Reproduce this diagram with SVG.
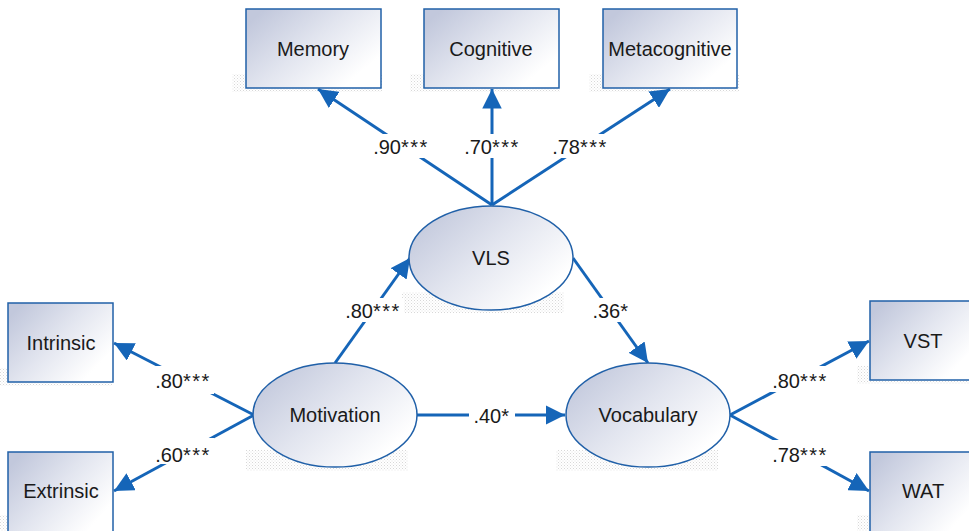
<svg xmlns="http://www.w3.org/2000/svg" width="969" height="531" viewBox="0 0 969 531">
<style>
.node{fill:url(#g);stroke:#2060a8;stroke-width:1.5}
.sh{fill:url(#dots)}
.t{font-family:"Liberation Sans",Arial,sans-serif;font-size:20px;fill:#1a1a1a;text-anchor:middle}
.lab{font-family:"Liberation Sans",Arial,sans-serif;font-size:20px;fill:#1a1a1a;text-anchor:middle}
.st{letter-spacing:1.5px}
.c{stroke:#1565b8;stroke-width:3;fill:none;marker-end:url(#ah)}
.bg{fill:#fff}
</style>
<defs>
<linearGradient id="g" x1="0" y1="0.2" x2="0.85" y2="0.8">
<stop offset="0" stop-color="#c2c8dc"/>
<stop offset="0.5" stop-color="#e2e5ef"/>
<stop offset="1" stop-color="#ffffff"/>
</linearGradient>
<pattern id="dots" width="3" height="3" patternUnits="userSpaceOnUse">
<rect width="3" height="3" fill="#fff"/>
<rect width="1" height="1" fill="#d8d8d8"/>
<rect x="1.5" y="1.5" width="1" height="1" fill="#e6e6e6"/>
</pattern>
<marker id="ah" viewBox="0 0 10 10" refX="10" refY="5" markerWidth="6.5" markerHeight="6.5" markerUnits="strokeWidth" orient="auto">
<path d="M0,0 L10,5 L0,10 Z" fill="#1565b8"/>
</marker>
</defs>
<g id="shadows">
<rect class="sh" x="232" y="74" width="150" height="18"/>
<rect class="sh" x="410" y="74" width="150" height="18"/>
<rect class="sh" x="589" y="74" width="150" height="18"/>
<rect class="sh" x="0" y="368" width="112" height="18"/>
<rect class="sh" x="0" y="515" width="112" height="16"/>
<rect class="sh" x="857" y="366" width="112" height="18"/>
<rect class="sh" x="857" y="515" width="112" height="16"/>
<rect class="sh" x="402" y="292" width="162" height="21"/>
<rect class="sh" x="246" y="450" width="162" height="21"/>
<rect class="sh" x="556" y="450" width="162" height="21"/>
</g>
<g id="connectors">
<line class="c" x1="492" y1="205" x2="318" y2="89"/>
<line class="c" x1="492" y1="205" x2="492" y2="89"/>
<line class="c" x1="492" y1="205" x2="670" y2="89"/>
<line class="c" x1="335" y1="363" x2="410" y2="258"/>
<line class="c" x1="573" y1="258" x2="648" y2="363"/>
<line class="c" x1="417" y1="415" x2="565" y2="415"/>
<line class="c" x1="254" y1="415" x2="114" y2="343"/>
<line class="c" x1="254" y1="415" x2="114" y2="491"/>
<line class="c" x1="730" y1="415" x2="869" y2="341"/>
<line class="c" x1="730" y1="415" x2="869" y2="491"/>
</g>
<g id="labels">
<rect class="bg" x="370" y="134" width="62" height="24"/>
<text class="lab" x="401" y="154">.90<tspan class="st">***</tspan></text>
<rect class="bg" x="461" y="134" width="62" height="24"/>
<text class="lab" x="492" y="154">.70<tspan class="st">***</tspan></text>
<rect class="bg" x="549" y="134" width="62" height="24"/>
<text class="lab" x="580" y="154">.78<tspan class="st">***</tspan></text>
<rect class="bg" x="342" y="298" width="62" height="24"/>
<text class="lab" x="373" y="318">.80<tspan class="st">***</tspan></text>
<rect class="bg" x="588" y="298" width="46" height="24"/>
<text class="lab" x="611" y="318">.36<tspan class="st">*</tspan></text>
<rect class="bg" x="469" y="404" width="46" height="22"/>
<text class="lab" x="492" y="423">.40<tspan class="st">*</tspan></text>
<rect class="bg" x="152" y="366" width="62" height="28"/>
<text class="lab" x="183" y="388">.80<tspan class="st">***</tspan></text>
<rect class="bg" x="152" y="438" width="62" height="26"/>
<text class="lab" x="183" y="462">.60<tspan class="st">***</tspan></text>
<rect class="bg" x="769" y="366" width="62" height="26"/>
<text class="lab" x="800" y="388">.80<tspan class="st">***</tspan></text>
<rect class="bg" x="769" y="440" width="62" height="26"/>
<text class="lab" x="800" y="462">.78<tspan class="st">***</tspan></text>
</g>
<g id="memory"><rect class="node" x="246" y="9" width="135" height="79"/><text class="t" x="313" y="56">Memory</text></g>
<g id="cognitive"><rect class="node" x="424" y="9" width="135" height="79"/><text class="t" x="491" y="56">Cognitive</text></g>
<g id="metacognitive"><rect class="node" x="603" y="9" width="134" height="79"/><text class="t" x="670" y="56">Metacognitive</text></g>
<g id="intrinsic"><rect class="node" x="8" y="303" width="105" height="79"/><text class="t" x="61" y="350">Intrinsic</text></g>
<g id="extrinsic"><rect class="node" x="8" y="452" width="105" height="85"/><text class="t" x="61" y="498">Extrinsic</text></g>
<g id="vst"><rect class="node" x="870" y="301" width="105" height="79"/><text class="t" x="923" y="348">VST</text></g>
<g id="wat"><rect class="node" x="870" y="452" width="105" height="85"/><text class="t" x="923" y="498">WAT</text></g>
<g id="vls"><ellipse class="node" cx="491" cy="258" rx="82" ry="52"/><text class="t" x="491" y="265">VLS</text></g>
<g id="motivation"><ellipse class="node" cx="335" cy="415" rx="82" ry="52"/><text class="t" x="335" y="422">Motivation</text></g>
<g id="vocabulary"><ellipse class="node" cx="648" cy="415" rx="82" ry="52"/><text class="t" x="648" y="422">Vocabulary</text></g>
</svg>
